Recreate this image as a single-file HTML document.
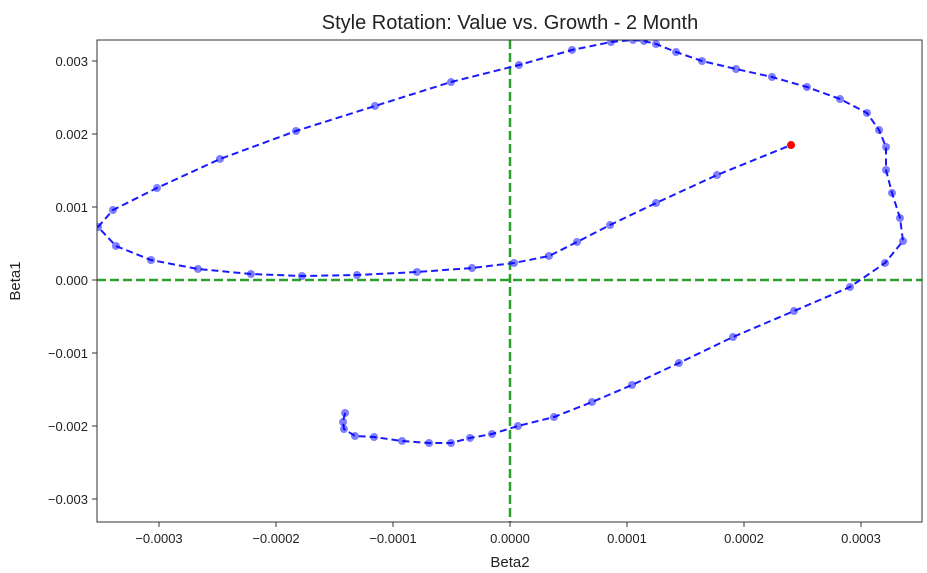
<!DOCTYPE html>
<html><head><meta charset="utf-8"><style>
body{margin:0;background:#fff;}
svg{display:block;font-family:"Liberation Sans","DejaVu Sans",sans-serif;}
</style></head><body>
<svg id="chart" width="927" height="573">
<text x="510" y="29" font-size="20" text-anchor="middle" fill="#222">Style Rotation: Value vs. Growth - 2 Month</text>
<text x="510" y="567" font-size="15" text-anchor="middle" fill="#222">Beta2</text>
<text x="20" y="281" font-size="15" text-anchor="middle" fill="#222" transform="rotate(-90 20 281)">Beta1</text>
<defs><clipPath id="clip"><rect x="97" y="40" width="825" height="482"/></clipPath></defs>
<g id="ticks"></g>
<g clip-path="url(#clip)" id="plot"></g>
<rect x="97" y="40" width="825" height="482" fill="none" stroke="#333" stroke-width="1"/>
</svg>
<script>
const beta2 = [-0.000141,-0.0001427,-0.0001419,-0.0001325,-0.0001162,-0.0000923,-0.0000692,-0.0000504,-0.0000342,-0.0000154,0.0000068,0.0000376,0.0000701,0.0001043,0.0001444,0.0001906,0.0002427,0.0002906,0.0003205,0.0003359,0.0003333,0.0003265,0.0003214,0.0003214,0.0003154,0.0003051,0.0002821,0.0002538,0.0002239,0.0001932,0.0001641,0.0001419,0.0001248,0.0001145,0.0001051,0.0000863,0.000053,0.0000077,-0.0000504,-0.0001154,-0.0001829,-0.0002479,-0.0003017,-0.0003393,-0.0003521,-0.0003368,-0.0003068,-0.0002667,-0.0002214,-0.0001778,-0.0001308,-0.0000795,-0.0000325,0.0000034,0.0000333,0.0000573,0.0000855,0.0001248,0.0001769,0.0002402];
const beta1 = [-0.001822,-0.001945,-0.002041,-0.002137,-0.002151,-0.002205,-0.002233,-0.002233,-0.002164,-0.00211,-0.002,-0.001877,-0.001671,-0.001438,-0.001137,-0.000781,-0.000425,-0.000096,0.000233,0.000534,0.000849,0.001192,0.001507,0.001822,0.002055,0.002288,0.002479,0.002644,0.002781,0.00289,0.003,0.003123,0.003233,0.003274,0.003288,0.00326,0.003151,0.002945,0.002712,0.002384,0.002041,0.001658,0.00126,0.000959,0.000726,0.000466,0.000274,0.000151,0.000082,0.000055,0.000068,0.00011,0.000164,0.000233,0.000329,0.000521,0.000753,0.001055,0.001438,0.001849];
const xTicks = [-0.0003,-0.0002,-0.0001,0,0.0001,0.0002,0.0003];
const xTickLabels = ["\u22120.0003","\u22120.0002","\u22120.0001","0.0000","0.0001","0.0002","0.0003"];
const yTicks = [-0.003,-0.002,-0.001,0,0.001,0.002,0.003];
const yTickLabels = ["\u22120.003","\u22120.002","\u22120.001","0.000","0.001","0.002","0.003"];
const NS="http://www.w3.org/2000/svg";
const X = v => 510 + v*1170000;
const Y = v => 280 - v*73000;
const tg=document.getElementById('ticks'), pg=document.getElementById('plot');
function mk(tag,attrs,parent){const e=document.createElementNS(NS,tag);for(const k in attrs)e.setAttribute(k,attrs[k]);parent.appendChild(e);return e;}
xTicks.forEach((t,i)=>{
  const l=mk('line',{x1:X(t),x2:X(t),y1:522,y2:527,stroke:'#333'},tg);
  
  
  const tx=mk('text',{x:X(t),y:543,'font-size':13,'text-anchor':'middle',fill:'#222'},tg);
  tx.textContent=xTickLabels[i];
  
  
});
yTicks.forEach((t,i)=>{
  const l=mk('line',{x1:92,x2:97,y1:Y(t),y2:Y(t),stroke:'#333'},tg);
  
  
  const tx=mk('text',{x:88,y:Y(t)+5,'font-size':13,'text-anchor':'end',fill:'#222'},tg);
  tx.textContent=yTickLabels[i];
  
  
});
const h=mk('line',{x1:97,x2:922,y1:Y(0),y2:Y(0),stroke:'#2ca02c','stroke-width':2.5,'stroke-dasharray':'9,4'},pg);


const v=mk('line',{x1:X(0),x2:X(0),y1:40,y2:522,stroke:'#2ca02c','stroke-width':2.5,'stroke-dasharray':'9,4'},pg);


const d=beta2.map((b,i)=>(i?'L':'M')+X(b).toFixed(1)+','+Y(beta1[i]).toFixed(1)).join(' ');
const p=mk('path',{d:d,fill:'none',stroke:'#1a1aff','stroke-width':2,'stroke-dasharray':'7,4'},pg);


beta2.forEach((b,i)=>{
  const last=i===beta2.length-1;
  const c=mk('circle',{cx:X(b),cy:Y(beta1[i]),r:4,fill:last?'#ff0000':'#0000ff','fill-opacity':last?1:0.5},pg);
  
  
});
</script>
</body></html>
